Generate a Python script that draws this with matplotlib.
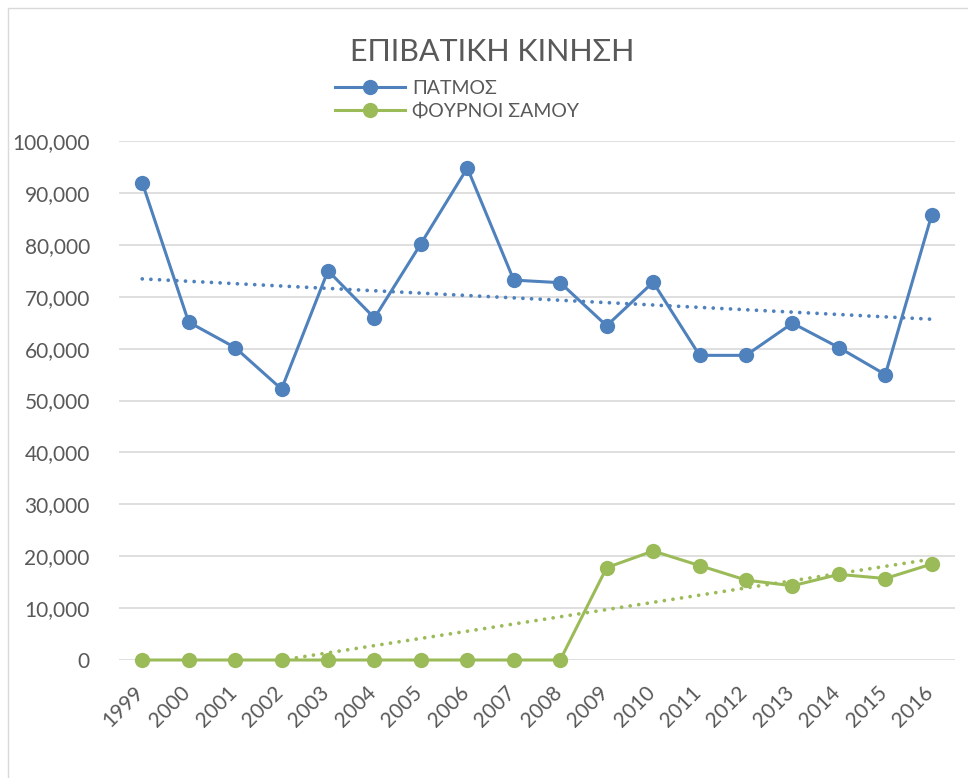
import numpy as np
import matplotlib
matplotlib.use("Agg")
import matplotlib.pyplot as plt
from matplotlib.patches import Rectangle
from matplotlib.transforms import ScaledTranslation
from matplotlib.ticker import FuncFormatter

# Passenger traffic per year
years = ["1999", "2000", "2001", "2002", "2003", "2004", "2005", "2006", "2007",
         "2008", "2009", "2010", "2011", "2012", "2013", "2014", "2015", "2016"]
patmos = [92000, 65100, 60200, 52200, 75000, 65900, 80200, 94800, 73200,
          72700, 64400, 72800, 58700, 58700, 64900, 60200, 55000, 85800]
fournoi = [0, 0, 0, 0, 0, 0, 0, 0, 0,
           0, 17800, 21000, 18200, 15400, 14300, 16500, 15700, 18500]
series_names = ["ΠΑΤΜΟΣ", "ΦΟΥΡΝΟΙ ΣΑΜΟΥ"]
title_text = "ΕΠΙΒΑΤΙΚΗ ΚΙΝΗΣΗ"
y_ticks = list(range(0, 100001, 10000))

BLUE = "#4F81BD"
GREEN = "#9BBB59"
GRID = "#D9D9D9"
TEXT = "#595959"

plt.rcParams["font.family"] = ["Lato", "DejaVu Sans"]

W, H = 968, 778
fig = plt.figure(figsize=(W / 100, H / 100), dpi=100)

# chart-area frame (extends past the right and bottom edges)
fig.patches.append(Rectangle((8 / W, -0.1), 1.2, 1 - 8 / H + 0.1,
                             transform=fig.transFigure, fill=False,
                             edgecolor=GRID, linewidth=1.0))

left, right, top, bottom = 119, 955, 141, 660
ax = fig.add_axes([left / W, 1 - bottom / H, (right - left) / W, (bottom - top) / H])

x = np.arange(len(years))

for vals, color, name in [(patmos, BLUE, series_names[0]), (fournoi, GREEN, series_names[1])]:
    ax.plot(x, vals, color=color, linewidth=2.2, marker="o", markersize=11,
            markeredgewidth=0, label=name, zorder=3, clip_on=False)
    # linear trendline
    k, b = np.polyfit(x, vals, 1)
    ax.plot(x, k * x + b, color=color, linewidth=2.7,
            linestyle=(0, (0.01, 2.3)), dash_capstyle="round", zorder=2)

ax.set_xlim(-0.5, len(years) - 0.5)
ax.set_ylim(0, 100000)
ax.set_yticks(y_ticks)
ax.yaxis.set_major_formatter(FuncFormatter(lambda v, p: f"{int(v):,}"))
ax.set_xticks(x)
ax.set_xticklabels(years, rotation=45, ha="right", va="top")

ax.grid(axis="y", color=GRID, linewidth=1.2, zorder=0)
ax.set_axisbelow(True)
for s in ax.spines.values():
    s.set_visible(False)
ax.tick_params(axis="y", length=0, pad=21, labelsize=15, labelcolor=TEXT)
ax.tick_params(axis="x", length=0, pad=16, labelsize=15, labelcolor=TEXT)
for lab in ax.get_xticklabels():
    lab.set_transform(lab.get_transform() + ScaledTranslation(4 / 72, 0, fig.dpi_scale_trans))

fig.text(492 / W, 1 - 52 / H, title_text, ha="center", va="center",
         fontsize=22, color=TEXT)

fig.legend(loc="upper left", bbox_to_anchor=(335 / W, 1 - 80 / H),
           frameon=False, fontsize=14, handlelength=3.6, handletextpad=0.35,
           labelspacing=0.3, borderpad=0, borderaxespad=0, labelcolor=TEXT)

fig.savefig("out.png", dpi=100)
